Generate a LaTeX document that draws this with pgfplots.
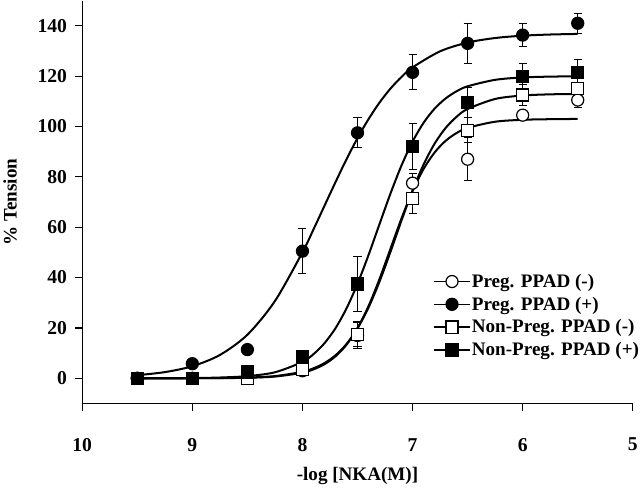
\documentclass[border=0pt]{standalone}
\usepackage{fontspec}
\setmainfont{Liberation Serif}
\usepackage{pgfplots}
\pgfplotsset{compat=1.18}
\pgfplotsset{linemark legend/.style={legend image code/.code={\draw[line width=1.6pt,black] (0pt,0pt)--(36pt,0pt); \draw[##1] plot coordinates {(18pt,0pt)};}}}
\begin{document}
\begin{tikzpicture}
\begin{axis}[
  scale only axis, width=548pt, height=401pt,
  x dir=reverse, xmin=5, xmax=10, ymin=-10, ymax=150,
  xtick={5,6,7,8,9,10}, ytick={0,20,...,140},
  axis x line*=bottom, axis y line*=left,
  tick align=outside, major tick length=7pt, minor tick num=0,
  axis line style={line width=1.2pt,-}, tick style={line width=1.2pt,black},
  /pgf/number format/assume math mode=true,
  ticklabel style={font=\fontsize{19.5}{22}\selectfont\bfseries},
  yticklabel style={anchor=east, inner sep=0pt, xshift=-8pt},
  xticklabel style={anchor=center, inner sep=0pt, yshift=-34pt},
  xlabel={-log [NKA(M)]}, ylabel={\% Tension},
  label style={font=\fontsize{19}{22}\selectfont\bfseries},
  xlabel style={at={(axis description cs:0.5,-0.1796)}, anchor=center},
  ylabel style={at={(axis description cs:-0.131,0.5)}, anchor=center},
  clip=false,
  legend cell align=left,
  legend style={draw=none, fill=none, at={(rel axis cs:0.637,0.324)}, anchor=north west,
    font=\fontsize{19}{22}\selectfont\bfseries, row sep=6pt, inner sep=0pt,
    nodes={inner sep=1pt}},
  error bars/y dir=both, error bars/y explicit,
  error bars/error bar style={line width=1pt,black},
  error bars/error mark options={rotate=90, mark size=4pt, line width=1pt, black},
]
% fitted curves
\addplot[black, line width=2pt, smooth, forget plot] coordinates {
(9.5,1.24) (9.25,2.45) (9.0,4.80) (8.75,9.26) (8.5,17.30) (8.25,30.67) (8.0,50.04) (7.9,59.10) (7.8,68.5) (7.7,77.88) (7.6,86.98) (7.5,95.37) (7.4,102.92) (7.3,109.50) (7.2,115.08) (7.1,119.70) (7.0,123.47) (6.75,129.86) (6.5,133.33) (6.25,135.14) (6.0,136.06) (5.75,136.53) (5.5,136.76)};
\addplot[black, line width=2pt, smooth, forget plot] coordinates {
(9.5,0.01) (9.0,0.11) (8.75,0.31) (8.5,0.86) (8.25,2.39) (8.0,6.50) (7.9,9.58) (7.8,13.92) (7.7,19.88) (7.6,27.73) (7.5,37.52) (7.4,48.94) (7.3,61.25) (7.2,73.44) (7.1,84.57) (7.0,93.99) (6.9,101.46) (6.8,107.07) (6.7,111.13) (6.6,114.0) (6.5,115.96) (6.25,118.53) (6.0,119.48) (5.75,119.81) (5.5,119.93)};
\addplot[black, line width=2pt, smooth, forget plot] coordinates {
(9.5,0.0) (9.0,0.03) (8.75,0.10) (8.5,0.29) (8.25,0.87) (8.0,2.58) (7.9,3.96) (7.8,6.04) (7.7,9.13) (7.6,13.60) (7.5,19.83) (7.4,28.11) (7.3,38.42) (7.2,50.29) (7.1,62.72) (7.0,74.58) (6.9,84.89) (6.8,93.17) (6.7,99.40) (6.6,103.87) (6.5,106.96) (6.25,110.93) (6.0,112.30) (5.75,112.77) (5.5,112.92)};
\addplot[black, line width=2pt, smooth, forget plot] coordinates {
(9.5,0.0) (9.0,0.02) (8.75,0.06) (8.5,0.21) (8.25,0.69) (8.0,2.22) (7.9,3.54) (7.8,5.58) (7.7,8.70) (7.6,13.32) (7.5,19.89) (7.4,28.66) (7.3,39.45) (7.2,51.5) (7.1,63.54) (7.0,74.34) (6.9,83.12) (6.8,89.67) (6.7,94.30) (6.6,97.42) (6.5,99.46) (6.25,101.90) (6.0,102.66) (5.75,102.90) (5.5,103.0)};
% data
\addplot[only marks, mark=*, mark size=6pt, mark options={fill=white, draw=black, line width=1.2pt}, linemark legend]
 table[x=x, y=y, y error=e] {
x y e
9.5 0 0
9.0 0 0
8.5 0 0
8.0 3 1.5
7.5 17 5
7.0 77.5 4
6.5 87 8.5
6.0 104.5 2
5.5 110.5 3
};
\addlegendentry{Preg. PPAD (-)}
\addplot[only marks, mark=*, mark size=6pt, mark options={fill=black, draw=black, line width=1.2pt}, linemark legend]
 table[x=x, y=y, y error=e] {
x y e
9.5 0 0
9.0 5.8 0
8.5 11.4 0
8.0 50.5 9
7.5 97.5 6
7.0 121.5 7
6.5 133 8
6.0 136.3 4.5
5.5 141 4
};
\addlegendentry{Preg. PPAD (+)}
\addplot[only marks, mark=square*, mark size=6pt, mark options={fill=white, draw=black, line width=1.2pt}, linemark legend]
 table[x=x, y=y, y error=e] {
x y e
9.5 0 0
9.0 0 0
8.5 0 0
8.0 3.5 1
7.5 17.5 5
7.0 71.5 6
6.5 98.5 5
6.0 112.5 4
5.5 115 4
};
\addlegendentry{Non-Preg. PPAD (-)}
\addplot[only marks, mark=square*, mark size=6pt, mark options={fill=black, draw=black, line width=1.2pt}, linemark legend]
 table[x=x, y=y, y error=e] {
x y e
9.5 0 0
9.0 0 0
8.5 2.5 0
8.0 8.5 1.5
7.5 37.5 11
7.0 92 9
6.5 109.5 6
6.0 120 5
5.5 121.5 5
};
\addlegendentry{Non-Preg. PPAD (+)}
\end{axis}
\end{tikzpicture}
\end{document}
